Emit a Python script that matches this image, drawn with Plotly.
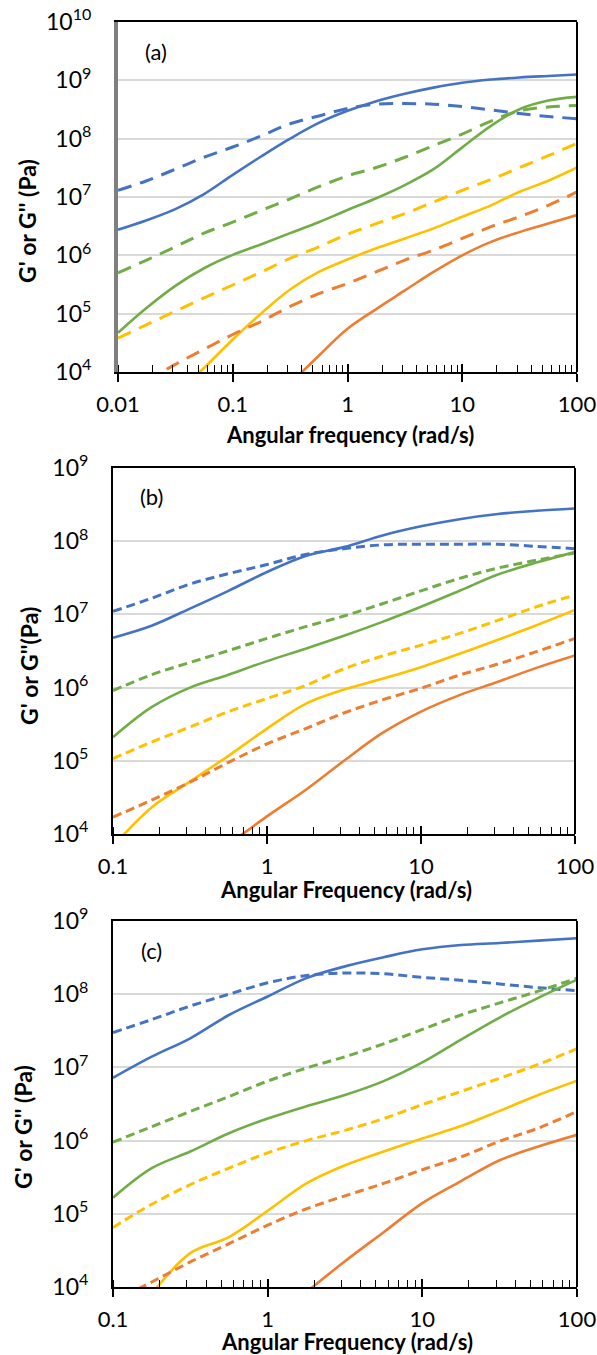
import plotly.graph_objects as go

W, H = 597, 1355
FONT = "Lato"

BLUE = "#4472C4"
ORANGE = "#ED7D31"
YELLOW = "#FFC000"
GREEN = "#70AD47"

# ---------------- panel (a) ----------------
freq_a = [0.01, 0.0178, 0.0316, 0.0562, 0.1, 0.178, 0.316, 0.562, 1,
          1.78, 3.16, 5.62, 10, 17.8, 31.6, 56.2, 100]
a_blue_gp = [2.75e6, 4.0e6, 6.2e6, 1.12e7, 2.4e7, 5.0e7, 1.0e8, 1.86e8, 3.0e8,
             4.4e8, 5.9e8, 7.5e8, 9.1e8, 1.03e9, 1.12e9, 1.19e9, 1.26e9]
a_blue_gpp = [1.3e7, 1.9e7, 3.0e7, 4.8e7, 7.2e7, 1.12e8, 1.8e8, 2.45e8, 3.3e8,
              3.9e8, 4.0e8, 3.9e8, 3.55e8, 3.1e8, 2.7e8, 2.4e8, 2.2e8]
a_green_gp = [4.7e4, 1.26e5, 3.0e5, 6.0e5, 1.02e6, 1.55e6, 2.4e6, 3.7e6, 6.0e6,
              9.5e6, 1.6e7, 3.0e7, 7.1e7, 1.66e8, 3.2e8, 4.5e8, 5.2e8]
a_green_gpp = [5.0e5, 8.3e5, 1.4e6, 2.4e6, 3.7e6, 5.9e6, 9.3e6, 1.5e7, 2.3e7,
               3.2e7, 4.8e7, 7.6e7, 1.2e8, 2.0e8, 3.0e8, 3.5e8, 3.7e8]
a_yellow_gp = [None, None, 4.0e3, 1.17e4, 3.6e4, 1.02e5, 2.6e5, 5.2e5, 8.5e5,
               1.32e6, 1.95e6, 2.9e6, 4.6e6, 7.2e6, 1.23e7, 1.9e7, 3.2e7]
a_yellow_gpp = [3.8e4, 6.5e4, 1.1e5, 1.86e5, 3.1e5, 5.2e5, 8.9e5, 1.4e6, 2.3e6,
                3.5e6, 5.2e6, 8.2e6, 1.3e7, 2.0e7, 3.2e7, 5.1e7, 8.3e7]
a_orange_gp = [None, None, None, None, None, None, 6.3e3, 1.9e4, 5.5e4,
               1.2e5, 2.5e5, 5.2e5, 1.0e6, 1.7e6, 2.5e6, 3.5e6, 4.9e6]
a_orange_gpp = [None, 7.0e3, 1.35e4, 2.45e4, 4.4e4, 7.4e4, 1.33e5, 2.2e5, 3.3e5,
                5.2e5, 8.3e5, 1.23e6, 1.95e6, 3.1e6, 4.6e6, 7.2e6, 1.22e7]

# ---------------- panel (b) ----------------
freq_b = [0.1, 0.178, 0.316, 0.562, 1, 1.78, 3.16, 5.62, 10, 17.8, 31.6, 56.2, 100]
b_blue_gp = [4.8e6, 7.0e6, 1.2e7, 2.1e7, 3.8e7, 6.3e7, 8.3e7, 1.2e8, 1.6e8,
             2.0e8, 2.35e8, 2.6e8, 2.8e8]
b_blue_gpp = [1.1e7, 1.66e7, 2.6e7, 3.6e7, 4.8e7, 6.6e7, 7.9e7, 8.9e7, 9.1e7,
              9.1e7, 9.1e7, 8.5e7, 7.9e7]
b_green_gp = [2.1e5, 5.4e5, 1.0e6, 1.5e6, 2.3e6, 3.4e6, 5.1e6, 7.9e6, 1.27e7,
              2.1e7, 3.5e7, 5.1e7, 7.1e7]
b_green_gpp = [9.1e5, 1.5e6, 2.2e6, 3.2e6, 4.7e6, 6.8e6, 9.5e6, 1.4e7, 2.1e7,
               3.1e7, 4.3e7, 5.5e7, 6.9e7]
b_yellow_gp = [6.8e3, 2.3e4, 5.2e4, 1.17e5, 2.75e5, 6.0e5, 9.4e5, 1.32e6, 1.9e6,
               2.9e6, 4.5e6, 7.1e6, 1.15e7]
b_yellow_gpp = [1.07e5, 1.8e5, 2.9e5, 4.7e5, 7.1e5, 1.07e6, 1.8e6, 2.7e6, 3.8e6,
                5.5e6, 8.3e6, 1.27e7, 1.84e7]
b_orange_gp = [None, None, None, 7.2e3, 1.74e4, 4.0e4, 1.0e5, 2.4e5, 4.7e5,
               7.9e5, 1.2e6, 1.86e6, 2.75e6]
b_orange_gpp = [1.7e4, 2.9e4, 5.1e4, 9.5e4, 1.7e5, 2.75e5, 4.5e5, 6.8e5, 9.8e5,
                1.48e6, 2.1e6, 3.1e6, 4.7e6]

# ---------------- panel (c) ----------------
freq_c = [0.1, 0.178, 0.316, 0.562, 1, 1.78, 3.16, 5.62, 10, 17.8, 31.6, 56.2, 100]
c_blue_gp = [7.2e6, 1.4e7, 2.5e7, 5.2e7, 9.3e7, 1.66e8, 2.4e8, 3.2e8, 4.1e8,
             4.7e8, 5.0e8, 5.4e8, 5.8e8]
c_blue_gpp = [3.0e7, 4.5e7, 6.9e7, 1.0e8, 1.43e8, 1.8e8, 1.95e8, 1.9e8, 1.7e8,
              1.55e8, 1.38e8, 1.23e8, 1.12e8]
c_green_gp = [1.66e5, 4.2e5, 7.1e5, 1.26e6, 2.0e6, 2.95e6, 4.2e6, 6.5e6, 1.17e7,
              2.4e7, 4.8e7, 8.9e7, 1.58e8]
c_green_gpp = [9.5e5, 1.55e6, 2.5e6, 4.0e6, 6.5e6, 9.8e6, 1.4e7, 2.1e7, 3.3e7,
               5.2e7, 7.6e7, 1.1e8, 1.66e8]
c_yellow_gp = [None, 8.0e3, 2.9e4, 4.8e4, 1.1e5, 2.6e5, 4.6e5, 7.1e5, 1.07e6,
               1.58e6, 2.55e6, 4.2e6, 6.6e6]
c_yellow_gpp = [6.5e4, 1.35e5, 2.5e5, 4.2e5, 6.8e5, 1.0e6, 1.38e6, 2.0e6, 3.1e6,
                4.7e6, 7.1e6, 1.1e7, 1.8e7]
c_orange_gp = [None, None, None, None, None, 8.5e3, 2.25e4, 5.6e4, 1.4e5,
               2.8e5, 5.4e5, 8.3e5, 1.2e6]
c_orange_gpp = [6.3e3, 1.17e4, 2.2e4, 3.9e4, 7.0e4, 1.17e5, 1.76e5, 2.6e5, 4.0e5,
                6.0e5, 9.8e5, 1.48e6, 2.5e6]

x_ticks_a = [0.01, 0.1, 1, 10, 100]
x_ticks_bc = [0.1, 1, 10, 100]
y_exp_a = [4, 5, 6, 7, 8, 9, 10]
y_exp_bc = [4, 5, 6, 7, 8, 9]

panel_labels = ["(a)", "(b)", "(c)"]
x_titles = ["Angular frequency (rad/s)", "Angular Frequency (rad/s)",
            "Angular Frequency (rad/s)"]
y_titles = ["G' or G'' (Pa)", "G' or G''(Pa)", "G' or G'' (Pa)"]

# pixel boxes of the three plot areas: left, right, top, bottom
boxes = [(118, 577, 22, 372), (113, 575, 468, 834), (113, 577, 921, 1287)]


def px(x):
    return x / W


def py(y):
    return 1 - y / H


fig = go.Figure()

panels = [
    (freq_a, [(a_blue_gp, a_blue_gpp, BLUE), (a_green_gp, a_green_gpp, GREEN),
              (a_yellow_gp, a_yellow_gpp, YELLOW), (a_orange_gp, a_orange_gpp, ORANGE)],
     "14px,9px"),
    (freq_b, [(b_blue_gp, b_blue_gpp, BLUE), (b_green_gp, b_green_gpp, GREEN),
              (b_yellow_gp, b_yellow_gpp, YELLOW), (b_orange_gp, b_orange_gpp, ORANGE)],
     "9px,5px"),
    (freq_c, [(c_blue_gp, c_blue_gpp, BLUE), (c_green_gp, c_green_gpp, GREEN),
              (c_yellow_gp, c_yellow_gpp, YELLOW), (c_orange_gp, c_orange_gpp, ORANGE)],
     "9px,5px"),
]

for i, (freq, series, dash) in enumerate(panels):
    xa = "x" if i == 0 else f"x{i + 1}"
    ya = "y" if i == 0 else f"y{i + 1}"
    for gp, gpp, col in series:
        fig.add_trace(go.Scatter(x=freq, y=gpp, mode="lines", xaxis=xa, yaxis=ya,
                                 line=dict(color=col, width=3, dash=dash,
                                           shape="spline", smoothing=1.0),
                                 showlegend=False, hoverinfo="skip"))
        fig.add_trace(go.Scatter(x=freq, y=gp, mode="lines", xaxis=xa, yaxis=ya,
                                 line=dict(color=col, width=2.6,
                                           shape="spline", smoothing=1.0),
                                 showlegend=False, hoverinfo="skip"))

layout = dict(width=W, height=H, margin=dict(l=0, r=0, t=0, b=0, autoexpand=False),
              paper_bgcolor="white", plot_bgcolor="white",
              font=dict(family=FONT, color="black"))
annotations = []
shapes = []

for i in range(3):
    l, r, t, b = boxes[i]
    sfx = "" if i == 0 else str(i + 1)
    xt = x_ticks_a if i == 0 else x_ticks_bc
    ye = y_exp_a if i == 0 else y_exp_bc
    xr = [-2, 2] if i == 0 else [-1, 2]
    left_col = "#7F7F7F" if i == 0 else "black"
    left_w = 4 if i == 0 else 2

    layout["xaxis" + sfx] = dict(
        domain=[px(l), px(r)], anchor="y" + sfx, type="log", range=xr,
        tickvals=xt, ticktext=[f"{v:g}" for v in xt],
        ticks="outside", ticklen=8, tickwidth=1.5, tickcolor="black",
        minor=dict(ticks="inside", ticklen=7, tickwidth=1.2, tickcolor="black",
                   dtick="D1", showgrid=False),
        showline=True, linecolor="black", linewidth=2, mirror=True,
        showgrid=False, zeroline=False, ticklabelstandoff=4, automargin=False,
        ticklabeloverflow="allow",
        tickfont=dict(family=FONT, size=22, color="black"))
    layout["yaxis" + sfx] = dict(
        domain=[py(b), py(t)], anchor="x" + sfx, type="log", range=[ye[0], ye[-1]],
        tickvals=[10 ** e for e in ye],
        ticktext=[f"10<sup>{e}</sup>" for e in ye],
        ticks="", showline=True, linecolor=left_col, linewidth=left_w, mirror=False,
        showgrid=True, gridcolor="#D9D9D9", gridwidth=1.5, zeroline=False,
        ticklabelstandoff=18, automargin=False, ticklabeloverflow="allow",
        tickfont=dict(family=FONT, size=23, color="black"))

    # upper half of the major ticks, drawn by an overlay axis
    layout["xaxis" + str(i + 4)] = dict(
        overlaying="x" + sfx, matches="x" + sfx, anchor="y" + sfx, side="bottom",
        type="log", range=xr, tickvals=xt, showticklabels=False,
        ticks="inside", ticklen=8, tickwidth=1.5, tickcolor="black",
        showline=False, showgrid=False, zeroline=False, automargin=False)
    fig.add_trace(go.Scatter(x=[xt[0]], y=[10 ** ye[0]], mode="markers",
                             marker=dict(opacity=0), xaxis="x" + str(i + 4),
                             yaxis="y" + sfx, showlegend=False, hoverinfo="skip"))

    # right border of the frame
    shapes.append(dict(type="line", xref=f"x{sfx} domain", yref=f"y{sfx} domain",
                       x0=1, x1=1, y0=0, y1=1, line=dict(color="black", width=2)))

    annotations.append(dict(text=panel_labels[i], x=px(l + 38), y=py(t + 29),
                            xref="paper", yref="paper", showarrow=False,
                            xanchor="center", yanchor="middle",
                            font=dict(family=FONT, size=22, color="black")))

x_title_y = [434, 889, 1341]
y_title_pos = [(27, 221), (29, 666), (23, 1127)]
for i in range(3):
    l, r, t, b = boxes[i]
    annotations.append(dict(text=f"<b>{x_titles[i]}</b>", x=px((l + r) / 2 + 2),
                            y=py(x_title_y[i]), xref="paper", yref="paper",
                            showarrow=False, xanchor="center", yanchor="middle",
                            font=dict(family=FONT, size=22, color="black")))
    annotations.append(dict(text=f"<b>{y_titles[i]}</b>", x=px(y_title_pos[i][0]),
                            y=py(y_title_pos[i][1]), xref="paper", yref="paper",
                            showarrow=False, textangle=-90,
                            xanchor="center", yanchor="middle",
                            font=dict(family=FONT, size=23, color="black")))

layout["annotations"] = annotations
layout["shapes"] = shapes
fig.update_layout(**layout)

fig.write_html("out.html")
